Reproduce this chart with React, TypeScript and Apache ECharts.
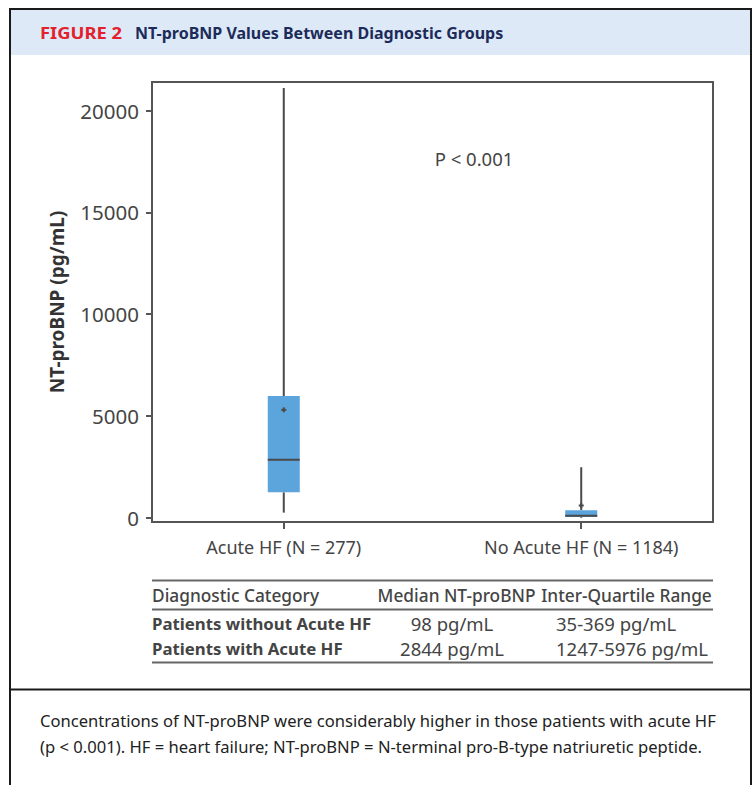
import React, { useEffect, useRef } from "react";
import * as echarts from "echarts";

const categories = ["Acute HF (N = 277)", "No Acute HF (N = 1184)"];
const whiskerMin = [250, 0];
const q1 = [1247, 35];
const median = [2844, 98];
const q3 = [5976, 369];
const whiskerMax = [21100, 2480];
const mean = [5300, 600];
const yTicks = [0, 5000, 10000, 15000, 20000];

const tableHeader = ["Diagnostic Category", "Median NT-proBNP", "Inter-Quartile Range"];
const tableGroups = ["Patients without Acute HF", "Patients with Acute HF"];
const tableMedians = ["98 pg/mL", "2844 pg/mL"];
const tableIqr = ["35-369 pg/mL", "1247-5976 pg/mL"];

const FONT = "'Noto Sans', 'Open Sans', sans-serif";
const LINE = "#4a4a4a";
const TEXT = "#444";

export default function App() {
  const ref = useRef<HTMLDivElement>(null);
  useEffect(() => {
    if (!ref.current) return;
    const chart = echarts.init(ref.current, null, { renderer: "svg" });
    const boxData = categories.map((_, i) => [
      i,
      whiskerMin[i],
      q1[i],
      median[i],
      q3[i],
      whiskerMax[i],
      mean[i],
    ]);

    const tableGraphics: any[] = [];
    const tLeft = 152;
    const tRight = 713;
    [580.5, 609.5, 662.5].forEach((y) =>
      tableGraphics.push({
        type: "line",
        shape: { x1: tLeft, y1: y, x2: tRight, y2: y },
        style: { stroke: "#666", lineWidth: 2 },
      })
    );
    const hdrStyle = { fill: TEXT, fontFamily: FONT, fontSize: 17.3, fontWeight: 500, textVerticalAlign: "middle" };
    tableGraphics.push({ type: "text", x: 152, y: 595, style: { ...hdrStyle, text: tableHeader[0], textAlign: "left" } });
    tableGraphics.push({ type: "text", x: 456.5, y: 595, style: { ...hdrStyle, text: tableHeader[1], textAlign: "center" } });
    tableGraphics.push({ type: "text", x: 626.5, y: 595, style: { ...hdrStyle, text: tableHeader[2], textAlign: "center" } });
    const rowY = [623, 648];
    tableGroups.forEach((g, i) => {
      tableGraphics.push({ type: "text", x: 152, y: rowY[i], style: { ...hdrStyle, fontSize: 16.8, fontWeight: "bold", text: g, textAlign: "left" } });
      tableGraphics.push({ type: "text", x: 452, y: rowY[i], style: { ...hdrStyle, fontSize: 18.5, fontWeight: "normal", text: tableMedians[i], textAlign: "center" } });
      tableGraphics.push({ type: "text", x: 556, y: rowY[i], style: { ...hdrStyle, fontSize: 18.5, fontWeight: "normal", text: tableIqr[i], textAlign: "left" } });
    });

    chart.setOption({
      animation: false,
      backgroundColor: "#fff",
      grid: {
        left: 152,
        right: 42,
        top: 82,
        bottom: 263,
        show: true,
        borderColor: "#555",
        borderWidth: 2,
        backgroundColor: "transparent",
      },
      xAxis: {
        type: "value",
        min: -0.443,
        max: 1.443,
        splitLine: { show: false },
        axisLine: { show: false, onZero: false },
        axisTick: { show: true, length: 7, customValues: [0, 1], lineStyle: { color: "#555", width: 2 } },
        axisLabel: {
          customValues: [0, 1],
          formatter: (v: number) => categories[Math.round(v)] ?? "",
          color: TEXT,
          fontFamily: FONT,
          fontSize: 18,
          margin: 16,
        },
      },
      yAxis: {
        type: "value",
        min: -210,
        max: 21400,
        name: "NT-proBNP (pg/mL)",
        nameLocation: "middle",
        nameRotate: 90,
        nameGap: 86,
        nameTextStyle: { color: "#333", fontFamily: FONT, fontSize: 19, fontWeight: "bold" },
        splitLine: { show: false },
        axisLine: { show: false, onZero: false },
        axisTick: { show: true, length: 6, customValues: yTicks, lineStyle: { color: "#555", width: 2 } },
        axisLabel: {
          customValues: yTicks,
          formatter: (v: number) => String(v),
          color: TEXT,
          fontFamily: FONT,
          fontSize: 20.5,
          margin: 13,
        },
      },
      series: [
        {
          type: "custom",
          data: boxData,
          encode: { x: 0, y: [1, 2, 3, 4, 5] },
          renderItem: (params: any, api: any) => {
            const x = api.value(0);
            const pMin = api.coord([x, api.value(1)]);
            const pQ1 = api.coord([x, api.value(2)]);
            const pMed = api.coord([x, api.value(3)]);
            const pQ3 = api.coord([x, api.value(4)]);
            const pMax = api.coord([x, api.value(5)]);
            const pMean = api.coord([x, api.value(6)]);
            const hw = 16;
            const cx = pMed[0];
            const ls = { stroke: LINE, lineWidth: 2 };
            return {
              type: "group",
              children: [
                { type: "line", shape: { x1: cx, y1: pMax[1], x2: cx, y2: pQ3[1] }, style: ls },
                { type: "line", shape: { x1: cx, y1: pQ1[1], x2: cx, y2: pMin[1] }, style: ls },
                {
                  type: "rect",
                  shape: { x: cx - hw, y: pQ3[1], width: hw * 2, height: pQ1[1] - pQ3[1] },
                  style: { fill: "#5ba5dc", stroke: null },
                },
                { type: "line", shape: { x1: cx - hw, y1: pMed[1], x2: cx + hw, y2: pMed[1] }, style: ls },
                { type: "line", shape: { x1: cx - 2.5, y1: pMean[1], x2: cx + 2.5, y2: pMean[1] }, style: ls },
                { type: "line", shape: { x1: cx, y1: pMean[1] - 2.5, x2: cx, y2: pMean[1] + 2.5 }, style: ls },
              ],
            };
          },
        },
      ],
      graphic: [
        {
          type: "rect",
          shape: { x: 11, y: 10, width: 739, height: 45 },
          style: { fill: "#dde9f6" },
          z: -1,
        },
        {
          type: "rect",
          shape: { x: 10, y: 9, width: 741, height: 800 },
          style: { fill: "none", stroke: "#1a1a1a", lineWidth: 2 },
        },
        {
          type: "line",
          shape: { x1: 10, y1: 689.5, x2: 751, y2: 689.5 },
          style: { stroke: "#1a1a1a", lineWidth: 2 },
        },
        {
          type: "text",
          x: 40,
          y: 33,
          scaleX: 1.15,
          style: {
            text: "FIGURE 2",
            fill: "#e3202e",
            fontFamily: FONT,
            fontSize: 16,
            fontWeight: "bold",
            textVerticalAlign: "middle",
          },
        },
        {
          type: "text",
          x: 135,
          y: 33,
          style: {
            text: "NT-proBNP Values Between Diagnostic Groups",
            fill: "#1c2b5a",
            fontFamily: FONT,
            fontSize: 16,
            fontWeight: "bold",
            textVerticalAlign: "middle",
          },
        },
        {
          type: "text",
          x: 474,
          y: 158,
          style: {
            text: "P < 0.001",
            fill: TEXT,
            fontFamily: FONT,
            fontSize: 18.5,
            textAlign: "center",
            textVerticalAlign: "middle",
          },
        },
        ...tableGraphics,
        {
          type: "text",
          x: 40,
          y: 720,
          style: {
            text: "Concentrations of NT-proBNP were considerably higher in those patients with acute HF",
            fill: "#222",
            fontFamily: FONT,
            fontSize: 16.6,
            textVerticalAlign: "middle",
          },
        },
        {
          type: "text",
          x: 40,
          y: 746,
          style: {
            text: "(p < 0.001). HF = heart failure; NT-proBNP = N-terminal pro-B-type natriuretic peptide.",
            fill: "#222",
            fontFamily: FONT,
            fontSize: 16.6,
            textVerticalAlign: "middle",
          },
        },
      ],
    });
    return () => chart.dispose();
  }, []);
  return (
    <div
      ref={ref}
      style={{ position: "absolute", left: 0, top: 0, width: 755, height: 785 }}
    />
  );
}
